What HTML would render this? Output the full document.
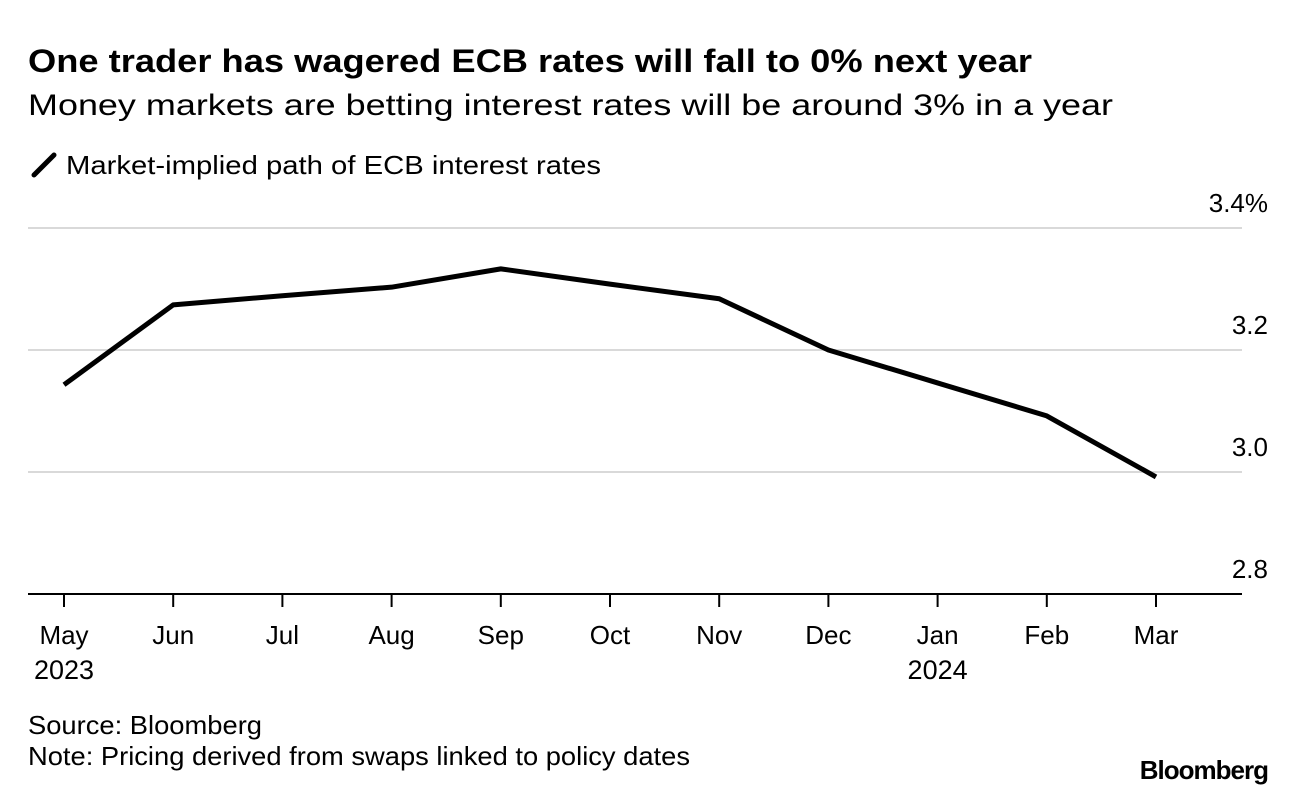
<!DOCTYPE html>
<html><head><meta charset="utf-8"><style>
body{margin:0;background:#fff;width:1296px;height:796px;overflow:hidden;font-family:"Liberation Sans",Arial,sans-serif;color:#000}
svg{position:absolute;left:0;top:0}
</style></head><body>
<svg width="1296" height="796" id="c">
<text x="28" y="72" font-size="32" font-weight="bold" textLength="1004" lengthAdjust="spacingAndGlyphs">One trader has wagered ECB rates will fall to 0% next year</text>
<text x="28" y="115" font-size="30" textLength="1085" lengthAdjust="spacingAndGlyphs">Money markets are betting interest rates will be around 3% in a year</text>
<g>
<line x1="34" y1="175" x2="54" y2="155" stroke="#000" stroke-width="5" stroke-linecap="round"/>
<text x="66" y="174" font-size="26" textLength="535" lengthAdjust="spacingAndGlyphs">Market-implied path of ECB interest rates</text>
</g>
<g id="grid"></g><g id="xaxis"></g><g id="series"></g>
<text x="28" y="734" font-size="26" textLength="234" lengthAdjust="spacingAndGlyphs">Source: Bloomberg</text>
<text x="28" y="765" font-size="26" textLength="662" lengthAdjust="spacingAndGlyphs">Note: Pricing derived from swaps linked to policy dates</text>
<text x="1268" y="779" font-size="26" font-weight="bold" text-anchor="end" letter-spacing="-1">Bloomberg</text>
</svg>
<script>
const months=["May","Jun","Jul","Aug","Sep","Oct","Nov","Dec","Jan","Feb","Mar"];
const years=["2023","","","","","","","","2024","",""];
const rates=[3.143,3.274,3.289,3.303,3.333,3.308,3.284,3.2,3.146,3.092,2.992];
const yTicks=[2.8,3.0,3.2,3.4];
const yTickLabels=["2.8","3.0","3.2","3.4%"];
const NS="http://www.w3.org/2000/svg";
const xS=i=>64+i*(1156-64)/(months.length-1);
const yS=v=>594-(v-2.8)*610;
function mk(t,a,p){const e=document.createElementNS(NS,t);for(const k in a)e.setAttribute(k,a[k]);p.appendChild(e);return e;}
const g=document.getElementById('grid');
yTicks.forEach((v,i)=>{
 if(i>0){const l=mk('line',{x1:28,x2:1242,y1:yS(v),y2:yS(v),stroke:'#d9d9d9','stroke-width':2},g);
 
 }
 const t=mk('text',{x:1268,y:yS(v)-16,'font-size':26,'text-anchor':'end'},g);t.textContent=yTickLabels[i];
 
 
});
const xa=document.getElementById('xaxis');
const base=mk('line',{x1:28,x2:1242,y1:594,y2:594,stroke:'#000','stroke-width':2},xa);


months.forEach((m,i)=>{
 const tk=mk('line',{x1:xS(i),x2:xS(i),y1:594,y2:607,stroke:'#000','stroke-width':2},xa);
 
 
 const t=mk('text',{x:xS(i),y:644,'font-size':26,'text-anchor':'middle'},xa);t.textContent=m;
 
 
 if(years[i]){const y=mk('text',{x:xS(i),y:679,'font-size':27,'text-anchor':'middle'},xa);y.textContent=years[i];
 
 }
});
const p=mk('polyline',{points:rates.map((v,i)=>xS(i)+','+yS(v)).join(' '),fill:'none',stroke:'#000','stroke-width':5,'stroke-linejoin':'round'},document.getElementById('series'));


</script>
</body></html>
